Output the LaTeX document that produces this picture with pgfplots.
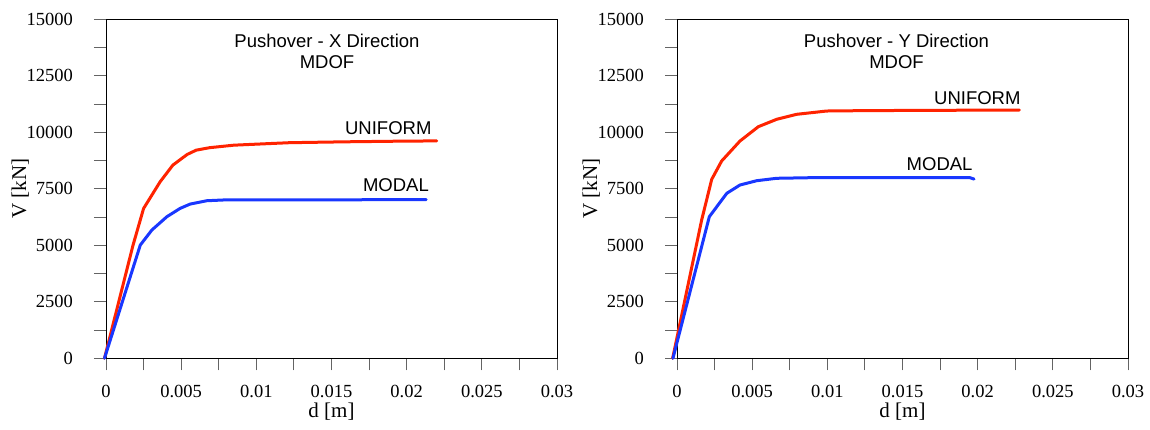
\documentclass[border=0pt]{standalone}
\usepackage{fontspec}
\setmainfont{Liberation Serif}
\newfontfamily\sansf{Liberation Sans}
\usepackage{pgfplots}
\pgfplotsset{compat=1.18}
\definecolor{cred}{RGB}{255,35,0}
\definecolor{cblue}{RGB}{25,55,255}
\definecolor{tickgray}{RGB}{100,100,100}

\pgfplotsset{
 pushstyle/.style={
  scale only axis, width=451pt, height=339pt,
  xmin=0,xmax=0.03,ymin=0,ymax=15000,
  clip=false,
  axis line style={black, line width=1pt},
  tick align=outside,
  xtick pos=left, ytick pos=left,
  xtick={0,0.005,0.01,0.015,0.02,0.025,0.03},
  xticklabels={0,0.005,0.01,0.015,0.02,0.025,0.03},
  minor xtick={0.0025,0.0075,0.0125,0.0175,0.0225,0.0275},
  ytick={0,2500,5000,7500,10000,12500,15000},
  yticklabels={0,2500,5000,7500,10000,12500,15000},
  minor ytick={1250,3750,6250,8750,11250,13750},
  major tick length=12pt, minor tick length=12pt,
  tick style={tickgray, line width=1pt},
  tick label style={font=\fontsize{18.5}{20}\selectfont, inner sep=0pt},
  xticklabel style={yshift=-15pt},
  yticklabel style={xshift=-21pt},
  scaled x ticks=false, scaled y ticks=false,
  xlabel={d [m]}, ylabel={V [kN]},
  label style={font=\fontsize{21}{24}\selectfont},
  xlabel style={at={(axis description cs:0.5,-0.158)},anchor=center},
  ylabel style={at={(axis description cs:-0.19,0.5)},anchor=center},
 },
 curve/.style={line width=3pt, line join=round, line cap=round},
}
\tikzset{ttl/.style={font=\sansf\fontsize{18.5}{20}\selectfont}}

\begin{document}
\begin{tikzpicture}
\path[use as bounding box] (0,0) rectangle (1150pt,429pt);

\begin{axis}[pushstyle, at={(106pt,70.7pt)}, anchor=south west]
\addplot[curve, cred] coordinates {
(-0.0001,0) (0.0018,5010) (0.0025,6630) (0.0036,7810) (0.00445,8550)
(0.0054,9020) (0.006,9210) (0.0069,9320) (0.0085,9430) (0.0105,9490)
(0.0122,9540) (0.016,9580) (0.0192,9605) (0.0220,9620)};
\addplot[curve, cblue] coordinates {
(-0.0001,0) (0.00228,5010) (0.00305,5675) (0.00405,6265) (0.00493,6633)
(0.0056,6825) (0.0067,6972) (0.0078,7005) (0.0122,7005) (0.0213,7025)};
\node[ttl] at (axis cs:0.0147,14049) {Pushover - X Direction};
\node[ttl] at (axis cs:0.0147,13089) {MDOF};
\node[ttl, anchor=east, inner sep=0pt] at (axis cs:0.02166,10199) {UNIFORM};
\node[ttl, anchor=east, inner sep=0pt] at (axis cs:0.02149,7668) {MODAL};
\end{axis}

\begin{axis}[pushstyle, at={(677pt,70.7pt)}, anchor=south west]
\addplot[curve, cred] coordinates {
(-0.00029,0) (0.00164,6119) (0.00231,7920) (0.00297,8730) (0.00419,9615)
(0.00541,10248) (0.00663,10575) (0.00796,10796) (0.00996,10942) (0.0122,10957)
(0.016,10970) (0.02277,10985)};
\addplot[curve, cblue] coordinates {
(-0.00027,0) (0.00215,6266) (0.00331,7300) (0.00419,7668) (0.0053,7858)
(0.00663,7965) (0.00885,7991) (0.0122,7995) (0.01945,8000) (0.01976,7930)};
\node[ttl] at (axis cs:0.0146,14049) {Pushover - Y Direction};
\node[ttl] at (axis cs:0.0146,13089) {MDOF};
\node[ttl, anchor=east, inner sep=0pt] at (axis cs:0.02286,11504) {UNIFORM};
\node[ttl, anchor=east, inner sep=0pt] at (axis cs:0.01967,8597) {MODAL};
\end{axis}
\end{tikzpicture}
\end{document}
